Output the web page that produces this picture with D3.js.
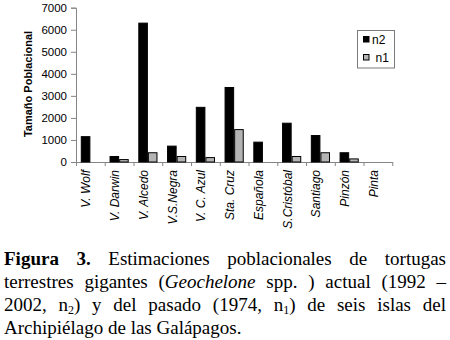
<!DOCTYPE html>
<html>
<head>
<meta charset="utf-8">
<script src="https://cdn.jsdelivr.net/npm/d3@7"></script>
<style>
  body { margin: 0; background: #fff; }
  svg { display: block; }
</style>
</head>
<body>
<div id="chart"></div>
<script>
const islands = ["V. Wolf", "V. Darwin", "V. Alcedo", "V.S.Negra", "V. C. Azul", "Sta. Cruz",
  "Española", "S.Cristóbal", "Santiago", "Pinzón", "Pinta"]
const n2 = [1150, 250, 6300, 720, 2480, 3380, 900, 1760, 1200, 420, 0]
const n1 = [0, 110, 420, 250, 200, 1470, 0, 250, 420, 140, 0]
const yTicks = [0, 1000, 2000, 3000, 4000, 5000, 6000, 7000]
const seriesNames = ["n2", "n1"]

// caption words: each word is a list of pieces (b = bold, i = italic, sub = subscript)
const captionLines = [
  [[{t: "Figura", b: 1}], [{t: "3.", b: 1}], [{t: "Estimaciones"}], [{t: "poblacionales"}], [{t: "de"}], [{t: "tortugas"}]],
  [[{t: "terrestres"}], [{t: "gigantes"}], [{t: "("}, {t: "Geochelone", i: 1}], [{t: "spp."}], [{t: ")"}],
    [{t: "actual"}], [{t: "(1992"}], [{t: "–"}]],
  [[{t: "2002,"}], [{t: "n"}, {t: "2", sub: 1}, {t: ")"}], [{t: "y"}], [{t: "del"}], [{t: "pasado"}],
    [{t: "(1974,"}], [{t: "n"}, {t: "1", sub: 1}, {t: ")"}], [{t: "de"}], [{t: "seis"}], [{t: "islas"}], [{t: "del"}]],
  [[{t: "Archipiélago"}], [{t: "de"}], [{t: "las"}], [{t: "Galápagos."}]],
]

const dataset = islands.map((d, i) => ({ island: d, n2: n2[i], n1: n1[i] }))

const width = 450
const height = 340
const plot = { left: 76, right: 392.3, top: 7.7, bottom: 162 }

const svg = d3.select("#chart").append("svg")
  .attr("width", width)
  .attr("height", height)
  .style("font-family", "'Liberation Sans', Arial, sans-serif")

svg.append("rect")
  .attr("width", width)
  .attr("height", height)
  .attr("fill", "#fff")

const xScale = d3.scaleBand()
  .domain(islands)
  .range([plot.left, plot.right])
  .padding(0)
const xSub = d3.scaleBand()
  .domain(seriesNames)
  .range([0, xScale.bandwidth()])
  .paddingInner(0)
  .paddingOuter(0.5)
const xEdges = d3.scaleLinear()
  .domain([0, islands.length])
  .range([plot.left, plot.right])
const yScale = d3.scaleLinear()
  .domain([0, 7000])
  .range([plot.bottom, plot.top])

const axisColor = "#858585"

// y axis
const yAxis = svg.append("g")
  .attr("transform", `translate(${plot.left},0)`)
  .call(d3.axisLeft(yScale).tickValues(yTicks).tickSize(5).tickPadding(4).tickFormat(d3.format("d")))
yAxis.select(".domain").attr("stroke", axisColor)
yAxis.selectAll(".tick line").attr("stroke", axisColor)
yAxis.selectAll(".tick text")
  .attr("fill", "#000")
  .style("font-size", "11.5px")
  .style("font-family", "'Liberation Sans', Arial, sans-serif")

// x axis, ticks at the category edges
const xAxis = svg.append("g")
  .attr("transform", `translate(0,${plot.bottom})`)
  .call(d3.axisBottom(xEdges).tickValues(d3.range(islands.length + 1)).tickSize(4).tickFormat("").tickSizeOuter(0))
xAxis.select(".domain").attr("stroke", axisColor)
xAxis.selectAll(".tick line").attr("stroke", axisColor)

svg.append("g")
  .selectAll("text")
  .data(islands)
  .join("text")
    .attr("transform", d => `translate(${xScale(d) + xScale.bandwidth() / 2},170) rotate(-90)`)
    .attr("text-anchor", "end")
    .style("font-size", "12px")
    .style("font-style", "italic")
    .text(d => d)

svg.append("text")
  .attr("transform", `translate(32,84) rotate(-90)`)
  .attr("text-anchor", "middle")
  .style("font-size", "11px")
  .style("font-weight", "bold")
  .text("Tamaño Poblacional")

// bars
const barStyle = {
  n2: { fill: "#000", stroke: "#000" },
  n1: { fill: "#b4b4b4", stroke: "#000" },
}
const groups = svg.append("g")
  .selectAll("g")
  .data(dataset)
  .join("g")
    .attr("transform", d => `translate(${xScale(d.island)},0)`)
groups.selectAll("rect")
  .data(d => seriesNames.map(k => ({ key: k, value: d[k] })).filter(s => s.value > 0))
  .join("rect")
    .attr("x", s => xSub(s.key) + 0.5)
    .attr("y", s => yScale(s.value))
    .attr("width", xSub.bandwidth() - 1)
    .attr("height", s => yScale(0) - yScale(s.value))
    .attr("fill", s => barStyle[s.key].fill)
    .attr("stroke", s => barStyle[s.key].stroke)
    .attr("stroke-width", 1)

// legend
const legend = svg.append("g")
legend.append("rect")
  .attr("x", 357.5).attr("y", 30.5)
  .attr("width", 37).attr("height", 37.5)
  .attr("fill", "#fff")
  .attr("stroke", "#7a7a7a")
const legendItems = [
  { key: "n2", y: 36.5, tx: 372 },
  { key: "n1", y: 54.5, tx: 375.5 },
]
legend.selectAll("rect.sw")
  .data(legendItems)
  .join("rect")
    .attr("class", "sw")
    .attr("x", 363.5).attr("y", d => d.y)
    .attr("width", 5.5).attr("height", 5.5)
    .attr("fill", d => barStyle[d.key].fill)
    .attr("stroke", "#000")
legend.selectAll("text")
  .data(legendItems)
  .join("text")
    .attr("x", d => d.tx)
    .attr("y", d => d.y + 7)
    .style("font-size", "12px")
    .text(d => d.key)

// caption, justified like the printed page
const cap = { left: 4, right: 446, top: 265, lineHeight: 23, size: 19 }
const capG = svg.append("g")
  .style("font-family", "'Liberation Serif', 'Times New Roman', serif")
  .style("font-size", `${cap.size}px`)
captionLines.forEach((words, li) => {
  const y = cap.top + li * cap.lineHeight
  const els = words.map(pieces => {
    const t = capG.append("text").attr("y", y)
    let shifted = false
    pieces.forEach(p => {
      const ts = t.append("tspan").text(p.t)
      if (p.b) ts.style("font-weight", "bold")
      if (p.i) ts.style("font-style", "italic")
      if (p.sub) {
        ts.style("font-size", "12px").attr("dy", 3)
        shifted = true
      } else if (shifted) {
        ts.attr("dy", -3)
        shifted = false
      }
    })
    return t
  })
  const widths = els.map(t => t.node().getComputedTextLength())
  const total = d3.sum(widths)
  const last = li === captionLines.length - 1
  const gap = last ? cap.size * 0.25 : (cap.right - cap.left - total) / (els.length - 1)
  let x = cap.left
  els.forEach((t, i) => {
    t.attr("x", x)
    x += widths[i] + gap
  })
})
</script>
</body>
</html>
